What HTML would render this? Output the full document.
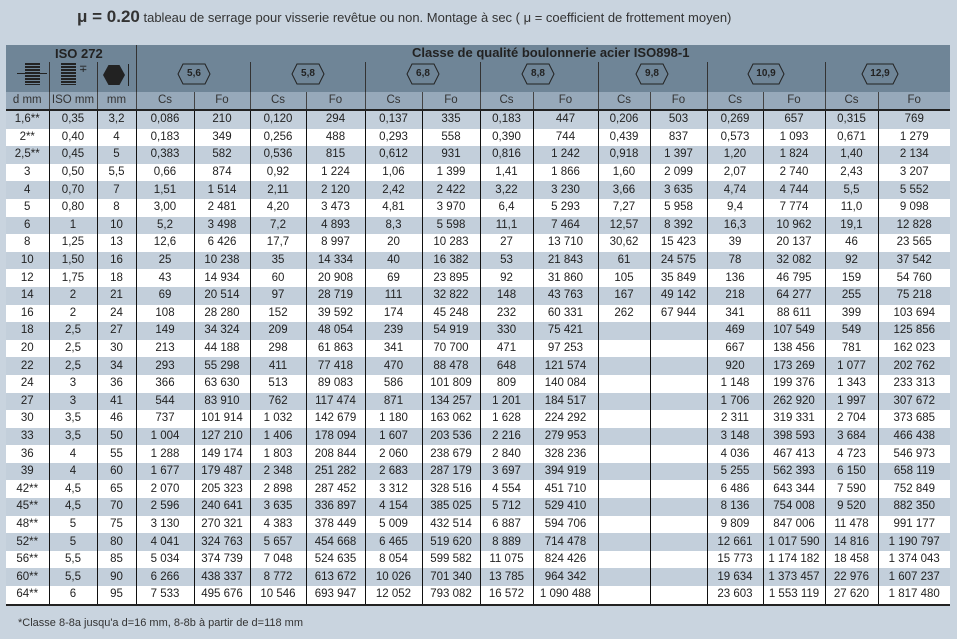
<!DOCTYPE html>
<html><head><meta charset="utf-8"><style>
body{margin:0;width:957px;height:639px;background:#c9d4df;font-family:"Liberation Sans",sans-serif;position:relative;overflow:hidden;color:#222}
.title{position:absolute;left:77px;top:7px;font-size:13px;color:#333;white-space:nowrap}
.title b{font-size:17px}
.hdr{position:absolute;left:6px;top:45px;width:944px;height:47px;background:#6f8597}
.foot{position:absolute;left:18px;top:617px;font-size:11px;color:#333}
table{position:absolute;left:6px;top:92px;border-collapse:collapse;table-layout:fixed;width:944px;font-size:11.5px}
td{text-align:center;height:17.6px;padding:0;border-left:1px solid #111;white-space:nowrap;line-height:17px}
td:first-child{border-left:none}
tr:nth-child(odd) td{background:#c3cfdb}
tr:nth-child(even) td{background:#fff}
tr.lab td{background:#97a9ba;color:#333;height:16px;border-left:1px solid #444}
tr.lab td:first-child{border-left:none}
tbody tr:last-child td{border-bottom:2px solid #222}
.vl{position:absolute;top:62px;height:30px;border-left:1px solid #333}
.hex{position:absolute;top:63px;width:34px;height:22px;font-size:10px;font-weight:bold;color:#222;text-align:center;line-height:22px}
.hex svg{position:absolute;left:0;top:0}
</style></head><body>
<div class="title"><b>μ = 0.20</b> tableau de serrage pour visserie revêtue ou non. Montage à sec ( μ = coefficient de frottement moyen)</div>
<div class="hdr"></div>
<div style="position:absolute;left:55px;top:46px;font-size:13px;font-weight:bold;color:#222">ISO 272</div>
<div style="position:absolute;left:412px;top:45px;font-size:13px;font-weight:bold;color:#222">Classe de qualité boulonnerie acier ISO898-1</div>
<div style="position:absolute;left:136px;top:45px;height:47px;border-left:1px solid #333"></div>
<div class="vl" style="left:49px"></div><div class="vl" style="left:97px"></div>
<div class="vl" style="left:250px"></div><div class="vl" style="left:365px"></div><div class="vl" style="left:480px"></div><div class="vl" style="left:598px"></div><div class="vl" style="left:707px"></div><div class="vl" style="left:825px"></div>
<div style="position:absolute;left:25px;top:63px;width:15px;height:22px;background:repeating-linear-gradient(#222 0 2px,#6f8597 2px 3px)"></div>
<div style="position:absolute;left:17px;top:73px;width:30px;border-top:1px solid #222"></div>
<div style="position:absolute;left:61px;top:63px;width:15px;height:22px;background:repeating-linear-gradient(#222 0 2px,#6f8597 2px 3px)"></div>
<div style="position:absolute;left:79px;top:64px;font-size:10px;color:#222">∓</div>
<div style="position:absolute;left:103px;top:65px;width:22px;height:20px;background:#222;clip-path:polygon(25% 0,75% 0,100% 50%,75% 100%,25% 100%,0 50%)"></div>
<div style="position:absolute;left:128px;top:64px;height:22px;border-left:1px solid #222"></div>
<div class="hex" style="left:177px"><svg width="34" height="22"><polygon points="6,1 28,1 33,11 28,21 6,21 1,11" fill="none" stroke="#222"/></svg><span style="position:relative">5,6</span></div>
<div class="hex" style="left:291px"><svg width="34" height="22"><polygon points="6,1 28,1 33,11 28,21 6,21 1,11" fill="none" stroke="#222"/></svg><span style="position:relative">5,8</span></div>
<div class="hex" style="left:406px"><svg width="34" height="22"><polygon points="6,1 28,1 33,11 28,21 6,21 1,11" fill="none" stroke="#222"/></svg><span style="position:relative">6,8</span></div>
<div class="hex" style="left:521px"><svg width="34" height="22"><polygon points="6,1 28,1 33,11 28,21 6,21 1,11" fill="none" stroke="#222"/></svg><span style="position:relative">8,8</span></div>
<div class="hex" style="left:635px"><svg width="34" height="22"><polygon points="6,1 28,1 33,11 28,21 6,21 1,11" fill="none" stroke="#222"/></svg><span style="position:relative">9,8</span></div>
<div class="hex" style="left:747px;width:38px"><svg width="38" height="22"><polygon points="6,1 32,1 37,11 32,21 6,21 1,11" fill="none" stroke="#222"/></svg><span style="position:relative">10,9</span></div>
<div class="hex" style="left:861px;width:38px"><svg width="38" height="22"><polygon points="6,1 32,1 37,11 32,21 6,21 1,11" fill="none" stroke="#222"/></svg><span style="position:relative">12,9</span></div>
<table>
<colgroup><col style="width:43px"><col style="width:48px"><col style="width:39px"><col style="width:58px"><col style="width:56px"><col style="width:56px"><col style="width:59px"><col style="width:57px"><col style="width:58px"><col style="width:53px"><col style="width:65px"><col style="width:52px"><col style="width:57px"><col style="width:56px"><col style="width:62px"><col style="width:53px"><col style="width:72px"></colgroup>
<tr class="lab"><td>d mm</td><td>ISO mm</td><td>mm</td><td>Cs</td><td>Fo</td><td>Cs</td><td>Fo</td><td>Cs</td><td>Fo</td><td>Cs</td><td>Fo</td><td>Cs</td><td>Fo</td><td>Cs</td><td>Fo</td><td>Cs</td><td>Fo</td></tr>
<tbody>
<tr><td>1,6**</td><td>0,35</td><td>3,2</td><td>0,086</td><td>210</td><td>0,120</td><td>294</td><td>0,137</td><td>335</td><td>0,183</td><td>447</td><td>0,206</td><td>503</td><td>0,269</td><td>657</td><td>0,315</td><td>769</td></tr>
<tr><td>2**</td><td>0,40</td><td>4</td><td>0,183</td><td>349</td><td>0,256</td><td>488</td><td>0,293</td><td>558</td><td>0,390</td><td>744</td><td>0,439</td><td>837</td><td>0,573</td><td>1 093</td><td>0,671</td><td>1 279</td></tr>
<tr><td>2,5**</td><td>0,45</td><td>5</td><td>0,383</td><td>582</td><td>0,536</td><td>815</td><td>0,612</td><td>931</td><td>0,816</td><td>1 242</td><td>0,918</td><td>1 397</td><td>1,20</td><td>1 824</td><td>1,40</td><td>2 134</td></tr>
<tr><td>3</td><td>0,50</td><td>5,5</td><td>0,66</td><td>874</td><td>0,92</td><td>1 224</td><td>1,06</td><td>1 399</td><td>1,41</td><td>1 866</td><td>1,60</td><td>2 099</td><td>2,07</td><td>2 740</td><td>2,43</td><td>3 207</td></tr>
<tr><td>4</td><td>0,70</td><td>7</td><td>1,51</td><td>1 514</td><td>2,11</td><td>2 120</td><td>2,42</td><td>2 422</td><td>3,22</td><td>3 230</td><td>3,66</td><td>3 635</td><td>4,74</td><td>4 744</td><td>5,5</td><td>5 552</td></tr>
<tr><td>5</td><td>0,80</td><td>8</td><td>3,00</td><td>2 481</td><td>4,20</td><td>3 473</td><td>4,81</td><td>3 970</td><td>6,4</td><td>5 293</td><td>7,27</td><td>5 958</td><td>9,4</td><td>7 774</td><td>11,0</td><td>9 098</td></tr>
<tr><td>6</td><td>1</td><td>10</td><td>5,2</td><td>3 498</td><td>7,2</td><td>4 893</td><td>8,3</td><td>5 598</td><td>11,1</td><td>7 464</td><td>12,57</td><td>8 392</td><td>16,3</td><td>10 962</td><td>19,1</td><td>12 828</td></tr>
<tr><td>8</td><td>1,25</td><td>13</td><td>12,6</td><td>6 426</td><td>17,7</td><td>8 997</td><td>20</td><td>10 283</td><td>27</td><td>13 710</td><td>30,62</td><td>15 423</td><td>39</td><td>20 137</td><td>46</td><td>23 565</td></tr>
<tr><td>10</td><td>1,50</td><td>16</td><td>25</td><td>10 238</td><td>35</td><td>14 334</td><td>40</td><td>16 382</td><td>53</td><td>21 843</td><td>61</td><td>24 575</td><td>78</td><td>32 082</td><td>92</td><td>37 542</td></tr>
<tr><td>12</td><td>1,75</td><td>18</td><td>43</td><td>14 934</td><td>60</td><td>20 908</td><td>69</td><td>23 895</td><td>92</td><td>31 860</td><td>105</td><td>35 849</td><td>136</td><td>46 795</td><td>159</td><td>54 760</td></tr>
<tr><td>14</td><td>2</td><td>21</td><td>69</td><td>20 514</td><td>97</td><td>28 719</td><td>111</td><td>32 822</td><td>148</td><td>43 763</td><td>167</td><td>49 142</td><td>218</td><td>64 277</td><td>255</td><td>75 218</td></tr>
<tr><td>16</td><td>2</td><td>24</td><td>108</td><td>28 280</td><td>152</td><td>39 592</td><td>174</td><td>45 248</td><td>232</td><td>60 331</td><td>262</td><td>67 944</td><td>341</td><td>88 611</td><td>399</td><td>103 694</td></tr>
<tr><td>18</td><td>2,5</td><td>27</td><td>149</td><td>34 324</td><td>209</td><td>48 054</td><td>239</td><td>54 919</td><td>330</td><td>75 421</td><td></td><td></td><td>469</td><td>107 549</td><td>549</td><td>125 856</td></tr>
<tr><td>20</td><td>2,5</td><td>30</td><td>213</td><td>44 188</td><td>298</td><td>61 863</td><td>341</td><td>70 700</td><td>471</td><td>97 253</td><td></td><td></td><td>667</td><td>138 456</td><td>781</td><td>162 023</td></tr>
<tr><td>22</td><td>2,5</td><td>34</td><td>293</td><td>55 298</td><td>411</td><td>77 418</td><td>470</td><td>88 478</td><td>648</td><td>121 574</td><td></td><td></td><td>920</td><td>173 269</td><td>1 077</td><td>202 762</td></tr>
<tr><td>24</td><td>3</td><td>36</td><td>366</td><td>63 630</td><td>513</td><td>89 083</td><td>586</td><td>101 809</td><td>809</td><td>140 084</td><td></td><td></td><td>1 148</td><td>199 376</td><td>1 343</td><td>233 313</td></tr>
<tr><td>27</td><td>3</td><td>41</td><td>544</td><td>83 910</td><td>762</td><td>117 474</td><td>871</td><td>134 257</td><td>1 201</td><td>184 517</td><td></td><td></td><td>1 706</td><td>262 920</td><td>1 997</td><td>307 672</td></tr>
<tr><td>30</td><td>3,5</td><td>46</td><td>737</td><td>101 914</td><td>1 032</td><td>142 679</td><td>1 180</td><td>163 062</td><td>1 628</td><td>224 292</td><td></td><td></td><td>2 311</td><td>319 331</td><td>2 704</td><td>373 685</td></tr>
<tr><td>33</td><td>3,5</td><td>50</td><td>1 004</td><td>127 210</td><td>1 406</td><td>178 094</td><td>1 607</td><td>203 536</td><td>2 216</td><td>279 953</td><td></td><td></td><td>3 148</td><td>398 593</td><td>3 684</td><td>466 438</td></tr>
<tr><td>36</td><td>4</td><td>55</td><td>1 288</td><td>149 174</td><td>1 803</td><td>208 844</td><td>2 060</td><td>238 679</td><td>2 840</td><td>328 236</td><td></td><td></td><td>4 036</td><td>467 413</td><td>4 723</td><td>546 973</td></tr>
<tr><td>39</td><td>4</td><td>60</td><td>1 677</td><td>179 487</td><td>2 348</td><td>251 282</td><td>2 683</td><td>287 179</td><td>3 697</td><td>394 919</td><td></td><td></td><td>5 255</td><td>562 393</td><td>6 150</td><td>658 119</td></tr>
<tr><td>42**</td><td>4,5</td><td>65</td><td>2 070</td><td>205 323</td><td>2 898</td><td>287 452</td><td>3 312</td><td>328 516</td><td>4 554</td><td>451 710</td><td></td><td></td><td>6 486</td><td>643 344</td><td>7 590</td><td>752 849</td></tr>
<tr><td>45**</td><td>4,5</td><td>70</td><td>2 596</td><td>240 641</td><td>3 635</td><td>336 897</td><td>4 154</td><td>385 025</td><td>5 712</td><td>529 410</td><td></td><td></td><td>8 136</td><td>754 008</td><td>9 520</td><td>882 350</td></tr>
<tr><td>48**</td><td>5</td><td>75</td><td>3 130</td><td>270 321</td><td>4 383</td><td>378 449</td><td>5 009</td><td>432 514</td><td>6 887</td><td>594 706</td><td></td><td></td><td>9 809</td><td>847 006</td><td>11 478</td><td>991 177</td></tr>
<tr><td>52**</td><td>5</td><td>80</td><td>4 041</td><td>324 763</td><td>5 657</td><td>454 668</td><td>6 465</td><td>519 620</td><td>8 889</td><td>714 478</td><td></td><td></td><td>12 661</td><td>1 017 590</td><td>14 816</td><td>1 190 797</td></tr>
<tr><td>56**</td><td>5,5</td><td>85</td><td>5 034</td><td>374 739</td><td>7 048</td><td>524 635</td><td>8 054</td><td>599 582</td><td>11 075</td><td>824 426</td><td></td><td></td><td>15 773</td><td>1 174 182</td><td>18 458</td><td>1 374 043</td></tr>
<tr><td>60**</td><td>5,5</td><td>90</td><td>6 266</td><td>438 337</td><td>8 772</td><td>613 672</td><td>10 026</td><td>701 340</td><td>13 785</td><td>964 342</td><td></td><td></td><td>19 634</td><td>1 373 457</td><td>22 976</td><td>1 607 237</td></tr>
<tr><td>64**</td><td>6</td><td>95</td><td>7 533</td><td>495 676</td><td>10 546</td><td>693 947</td><td>12 052</td><td>793 082</td><td>16 572</td><td>1 090 488</td><td></td><td></td><td>23 603</td><td>1 553 119</td><td>27 620</td><td>1 817 480</td></tr>
</tbody></table>
<div class="foot">*Classe 8-8a jusqu'a d=16 mm, 8-8b à partir de d=118 mm</div>
</body></html>
